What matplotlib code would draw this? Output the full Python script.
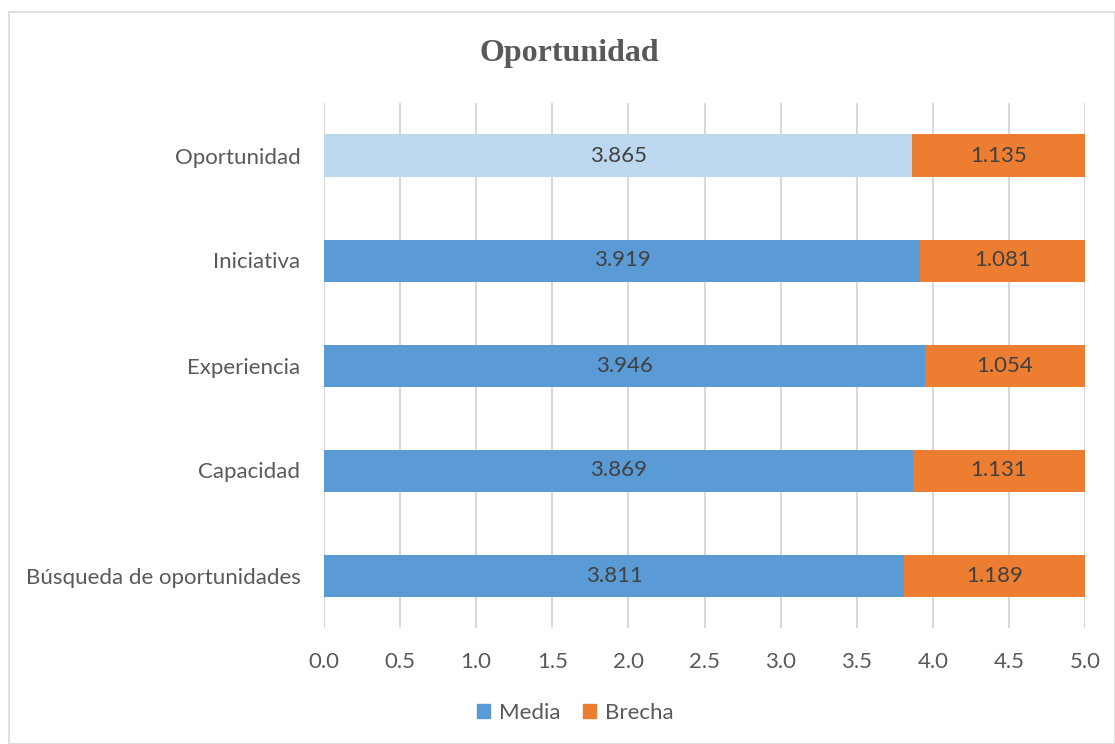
import matplotlib
matplotlib.use("Agg")
import matplotlib.pyplot as plt
from matplotlib.patches import Rectangle, Patch

categories = ["Búsqueda de oportunidades", "Capacidad", "Experiencia", "Iniciativa", "Oportunidad"]
media = [3.811, 3.869, 3.946, 3.919, 3.865]
brecha = [1.189, 1.131, 1.054, 1.081, 1.135]
xticks = [0.0, 0.5, 1.0, 1.5, 2.0, 2.5, 3.0, 3.5, 4.0, 4.5, 5.0]

blue = "#5B9BD5"
light_blue = "#BDD7EE"
orange = "#ED7D31"
txt = "#595959"
font = "Lato"
fs = 16

fig = plt.figure(figsize=(11.15, 7.44), dpi=100)
ax = fig.add_axes([324/1115, 1-628/744, (1085-324)/1115, (628-103)/744])

media_colors = [blue]*4 + [light_blue]
y = list(range(len(categories)))
ax.barh(y, media, height=0.4, color=media_colors, zorder=3)
ax.barh(y, brecha, left=media, height=0.4, color=orange, zorder=3)

for i in y:
    ax.text(media[i]/2, i, f"{media[i]:.3f}", ha="center", va="center", fontsize=fs,
            color="#404040", family=font, zorder=4)
    ax.text(media[i] + brecha[i]/2, i, f"{brecha[i]:.3f}", ha="center", va="center", fontsize=fs,
            color="#404040", family=font, zorder=4)

ax.set_xlim(0, 5)
ax.set_ylim(-0.5, 4.5)
ax.set_xticks(xticks)
ax.set_xticklabels([f"{v:.1f}" for v in xticks], fontsize=fs, color=txt, family=font)
ax.set_yticks(y)
ax.set_yticklabels(categories, fontsize=fs, color=txt, family=font)
ax.tick_params(axis="both", length=0)
ax.tick_params(axis="x", pad=17)
ax.tick_params(axis="y", pad=17)
ax.grid(axis="x", color="#D9D9D9", linewidth=1.5, zorder=0)
for s in ax.spines.values():
    s.set_visible(False)

fig.text(569/1115, 1-54/744, "Oportunidad", ha="center", va="center", fontsize=23,
         fontweight="bold", color=txt, family="Liberation Serif")

handles = [Patch(color=blue, label="Media"), Patch(color=orange, label="Brecha")]
leg = fig.legend(handles=handles, loc="center", bbox_to_anchor=(575/1115, 1-713/744), ncol=2,
                 frameon=False, prop={"family": font, "size": fs}, handlelength=0.6, handleheight=0.6,
                 handletextpad=0.4, columnspacing=1.0)
for t in leg.get_texts():
    t.set_color(txt)

fig.patches.append(Rectangle((9/1115, 0), 1-9/1115, 1-12/744, transform=fig.transFigure,
                             fill=False, edgecolor="#D9D9D9", linewidth=1.2))

fig.savefig("out.png", dpi=100)
